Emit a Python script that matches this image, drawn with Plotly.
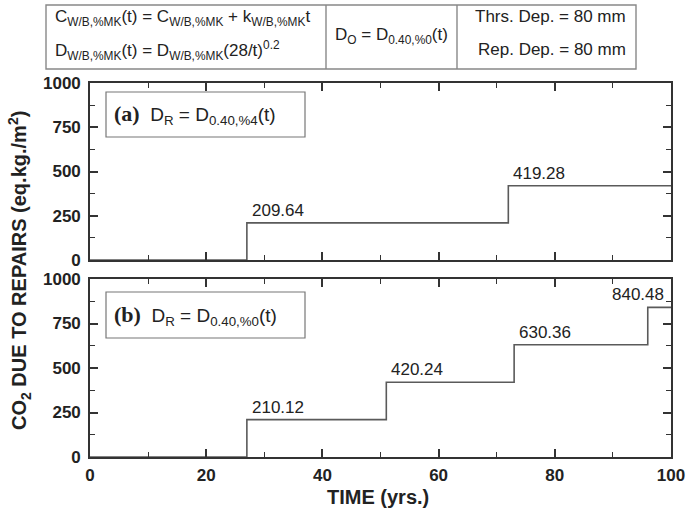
import plotly.graph_objects as go

# Repair events (year) and cumulative CO2 due to repairs (eq.kg./m2)
repair_years_a = [27, 72]
co2_a = [209.64, 419.28]
repair_years_b = [27, 51, 73, 96]
co2_b = [210.12, 420.24, 630.36, 840.48]

x_ticks = [0, 20, 40, 60, 80, 100]
y_ticks = [0, 250, 500, 750, 1000]
t_end = 100

W, H = 686, 514
AX_COL = "#333333"
LINE_COL = "#5a5a5a"
TXT_COL = "#222222"


def px(x):
    return x / W


def py(y):
    return 1 - y / H


def steps(years, vals):
    xs = [0] + list(years) + [t_end]
    ys = [0] + list(vals) + [vals[-1]]
    return xs, ys


fig = go.Figure()
for (yrs, vals, xa, ya) in [(repair_years_a, co2_a, "x", "y"),
                           (repair_years_b, co2_b, "x2", "y2")]:
    xs, ys = steps(yrs, vals)
    fig.add_trace(go.Scatter(x=xs, y=ys, mode="lines", line_shape="hv",
                             line=dict(color=LINE_COL, width=1.6),
                             xaxis=xa, yaxis=ya, showlegend=False,
                             hoverinfo="skip"))

axis_common = dict(showline=True, linecolor=AX_COL, linewidth=1.6, mirror="ticks",
                   ticks="inside", ticklen=8, tickwidth=1.6, tickcolor=AX_COL,
                   showgrid=False, zeroline=False, automargin=False,
                   tickfont=dict(family="Liberation Sans, Arial", size=17,
                                 color=TXT_COL, weight="bold"))
minor_x = dict(ticks="inside", ticklen=5, tickwidth=1.3, dtick=10, tickcolor=AX_COL)
minor_y = dict(ticks="inside", ticklen=5, tickwidth=1.3, dtick=125, tickcolor=AX_COL)

x_dom = [px(90), px(671)]
fig.update_layout(
    width=W, height=H, margin=dict(l=0, r=0, t=0, b=0, autoexpand=False),
    paper_bgcolor="white", plot_bgcolor="white",
    xaxis=dict(axis_common, domain=x_dom, range=[0, 100], tickvals=x_ticks,
               showticklabels=False, anchor="y", minor=minor_x),
    yaxis=dict(axis_common, domain=[py(260), py(83)], range=[0, 1000],
               tickvals=y_ticks, anchor="x", ticklabelstandoff=4, minor=minor_y),
    xaxis2=dict(axis_common, domain=x_dom, range=[0, 100], tickvals=x_ticks,
                anchor="y2", ticklabelstandoff=2, minor=minor_x),
    yaxis2=dict(axis_common, domain=[py(457), py(279)], range=[0, 1000],
                tickvals=y_ticks, anchor="x2", ticklabelstandoff=4, minor=minor_y),
)

shapes = []
annotations = []

# Value labels above each step
lab_font = dict(family="Liberation Sans, Arial", size=17, color=TXT_COL)
for yrs, vals, xr, yr in [(repair_years_a, co2_a, "x", "y"),
                          (repair_years_b, co2_b, "x2", "y2")]:
    for i, (yv, v) in enumerate(zip(yrs, vals)):
        last = (xr == "x2" and i == len(vals) - 1)
        annotations.append(dict(
            x=t_end if last else yv, y=v, xref=xr, yref=yr,
            text=f"{v:.2f}", showarrow=False, font=lab_font,
            xanchor="right" if last else "left", yanchor="bottom",
            xshift=-5 if last else 3, yshift=1))

# Panel label boxes
serif = "Liberation Serif, Times New Roman"
sans = "Liberation Sans, Arial"
for (y0, y1, tag, sub) in [(92, 137, "(a)", "0.40,%4"), (292, 338, "(b)", "0.40,%0")]:
    shapes.append(dict(type="rect", xref="paper", yref="paper",
                       x0=px(106), x1=px(305), y0=py(y1), y1=py(y0),
                       line=dict(color="#777777", width=1.2)))
    annotations.append(dict(
        x=px(112), y=py((y0 + y1) / 2), xref="paper", yref="paper",
        xanchor="left", yanchor="middle", showarrow=False,
        text=(f"<span style='font-family:{serif};font-weight:bold;font-size:22px'>{tag}</span>"
              f"  D<sub>R</sub> = D<sub>{sub}</sub>(t)"),
        font=dict(family=sans, size=19, color=TXT_COL)))

# Parameter table across the top
tbl_col = "#888888"
shapes.append(dict(type="rect", xref="paper", yref="paper",
                   x0=px(46), x1=px(636), y0=py(69), y1=py(5),
                   line=dict(color=tbl_col, width=1.4)))
for xv in (326, 457):
    shapes.append(dict(type="line", xref="paper", yref="paper",
                       x0=px(xv), x1=px(xv), y0=py(69), y1=py(5),
                       line=dict(color=tbl_col, width=1.4)))

tfont = dict(family=sans, size=17, color=TXT_COL)
sb = "W/B,%MK"
table_texts = [
    (53, 18, "left", f"C<sub>{sb}</sub>(t) = C<sub>{sb}</sub> + k<sub>{sb}</sub>t"),
    (53, 51, "left", f"D<sub>{sb}</sub>(t) = D<sub>{sb}</sub>(28/t)<sup>0.2</sup>"),
    (391, 36, "center", "D<sub>O</sub> = D<sub>0.40,%0</sub>(t)"),
    (628, 16, "right", "Thrs. Dep. = 80 mm"),
    (628, 50, "right", "Rep. Dep. = 80 mm"),
]
for xv, yv, anc, txt in table_texts:
    annotations.append(dict(x=px(xv), y=py(yv), xref="paper", yref="paper",
                            xanchor=anc, yanchor="middle", showarrow=False,
                            text=txt, font=tfont))

# Axis titles
title_font = dict(family=sans, size=20, color=TXT_COL, weight="bold")
annotations.append(dict(x=px(19), y=py(271), xref="paper", yref="paper",
                        textangle=-90, showarrow=False, xanchor="center",
                        yanchor="middle", font=title_font,
                        text="CO<sub>2</sub> DUE TO REPAIRS (eq.kg./m<sup>2</sup>)"))
annotations.append(dict(x=px(378), y=py(497), xref="paper", yref="paper",
                        showarrow=False, xanchor="center", yanchor="middle",
                        font=title_font, text="TIME (yrs.)"))

fig.update_layout(shapes=shapes, annotations=annotations)
fig.write_html("out.html")
